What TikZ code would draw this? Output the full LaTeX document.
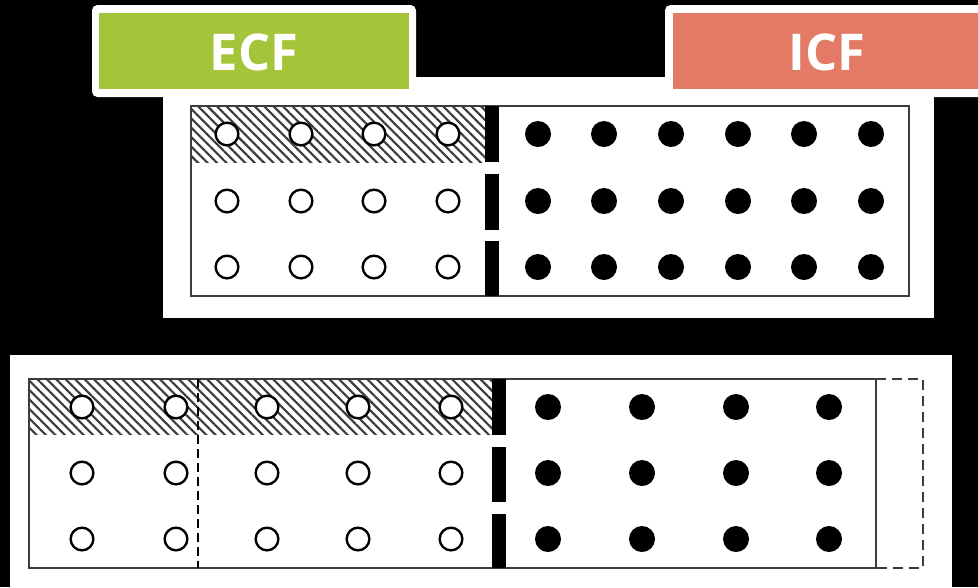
\documentclass[tikz,border=0pt]{standalone}
\usepackage{fontspec}
\setmainfont{Open Sans}
\usetikzlibrary{patterns.meta}
\definecolor{ecfgreen}{RGB}{164,196,58}
\definecolor{icfred}{RGB}{226,122,101}
\definecolor{edgegray}{RGB}{60,60,60}
\definecolor{hatchgray}{RGB}{60,60,60}
\tikzset{
  panel/.style={fill=white,draw=none},
  frame/.style={draw=edgegray,line width=1.4pt},
  hatch/.style={pattern={Lines[angle=-45,distance=5pt,line width=1.6pt]},pattern color=hatchgray},
  wall/.style={fill=black,draw=none},
  ion/.style={circle,draw=black,line width=1.8pt,fill=white,minimum size=17pt,inner sep=0pt},
  cell/.style={circle,fill=black,draw=none,minimum size=19.5pt,inner sep=0pt},
  tagtext/.style={text=white,font=\bfseries\fontsize{38}{40}\selectfont,inner sep=0pt},
  extension/.style={draw=edgegray,line width=1.5pt,dash pattern=on 7.5pt off 4.5pt},
  boundary/.style={draw=black,line width=1.1pt,dash pattern=on 7pt off 3.5pt}
}
\begin{document}
\begin{tikzpicture}[x=0.75pt,y=-0.75pt]
  % canvas
  \fill[black] (0,0) rectangle (978,587);
  \useasboundingbox (0,0) rectangle (978,587);
  \begin{scope}
  \clip (0,0) rectangle (978,587);

  % ---------- upper panel ----------
  \path[panel] (163,77) rectangle (934,318);
  \path[hatch] (191,106) rectangle (485,162);
  \path[frame] (191,106) rectangle (909,296);
  \path[wall] (485,106) rectangle (499,162);
  \path[wall] (485,174) rectangle (499,230);
  \path[wall] (485,241) rectangle (499,296);
  \foreach \r/\y in {1/134,2/201,3/267}{
    \foreach \c/\x in {1/227,2/301,3/374,4/448}
      \node[ion] (uo\r\c) at (\x,\y) {};
    \foreach \c/\x in {1/538,2/604,3/671,4/738,5/804,6/871}
      \node[cell] (uf\r\c) at (\x,\y) {};
  }

  % ---------- lower panel ----------
  \path[panel] (10,355) rectangle (952,587);
  \path[hatch] (29,379) rectangle (492,434);
  \path[frame] (29,379) rectangle (876,568);
  \path[extension] (876,379) -- (923,379) -- (923,568) -- (876,568);
  \coordinate (btop) at (198,379);
  \coordinate (bbot) at (198,568);
  \draw[boundary] (btop) -- (bbot);
  \path[wall] (492,379) rectangle (506,435);
  \path[wall] (492,447) rectangle (506,502);
  \path[wall] (492,514) rectangle (506,568);
  \foreach \r/\y in {1/407,2/473,3/539}{
    \foreach \c/\x in {1/82,2/176,3/267,4/358,5/451}
      \node[ion] (lo\r\c) at (\x,\y) {};
    \foreach \c/\x in {1/548,2/642,3/736,4/829}
      \node[cell] (lf\r\c) at (\x,\y) {};
  }

  % ---------- tags ----------
  \fill[white,rounded corners=4pt] (92,5) rectangle (416,97);
  \fill[ecfgreen] (99,13) rectangle (409,89);
  \node[tagtext] (ecf) at (254,52) {ECF};
  \fill[white,rounded corners=4pt] (665,5) rectangle (1000,97);
  \fill[icfred] (673,13) rectangle (1000,89);
  \node[tagtext] (icf) at (827,52) {ICF};
  \end{scope}
\end{tikzpicture}
\end{document}
